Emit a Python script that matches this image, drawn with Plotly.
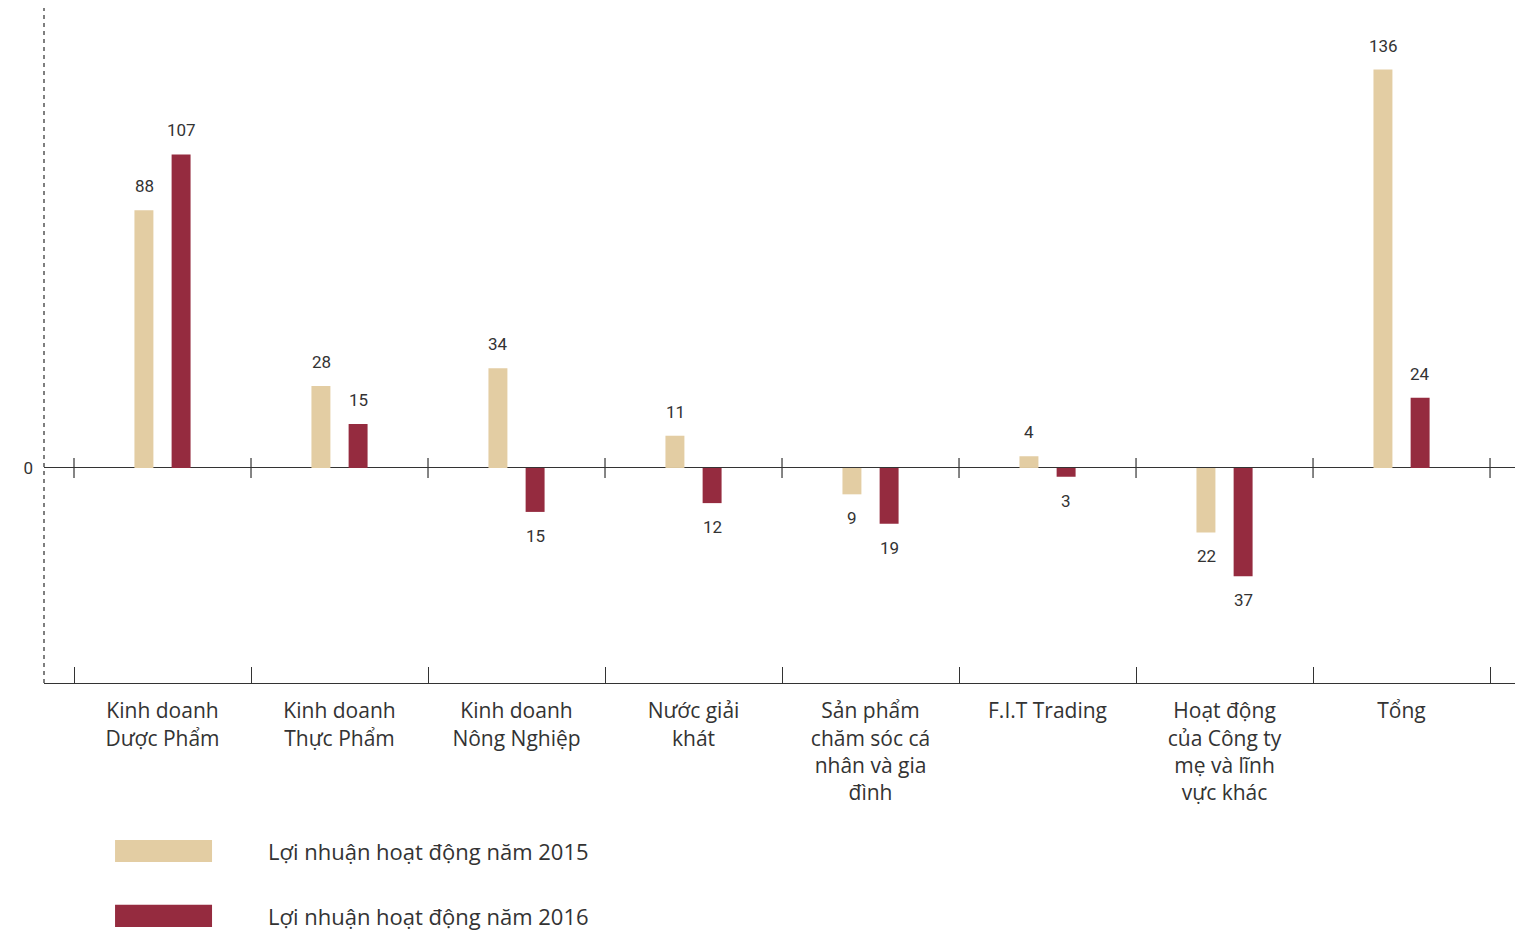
import plotly.graph_objects as go

categories = [
    "Kinh doanh<br>Dược Phẩm",
    "Kinh doanh<br>Thực Phẩm",
    "Kinh doanh<br>Nông Nghiệp",
    "Nước giải<br>khát",
    "Sản phẩm<br>chăm sóc cá<br>nhân và gia<br>đình",
    "F.I.T Trading",
    "Hoạt động<br>của Công ty<br>mẹ và lĩnh<br>vực khác",
    "Tổng",
]
values_2015 = [88, 28, 34, 11, -9, 4, -22, 136]
values_2016 = [107, 15, -15, -12, -19, -3, -37, 24]
series_names = ["Lợi nhuận hoạt động năm 2015", "Lợi nhuận hoạt động năm 2016"]
series_colors = ["#E3CDA3", "#952B3F"]

FONT = "Roboto"
LABEL_FONT = "Open Sans"
TXT = "#333333"

fig = go.Figure()
for name, vals, col in zip(series_names, [values_2015, values_2016], series_colors):
    fig.add_trace(go.Bar(x=categories, y=vals, name=name, marker=dict(color=col, line=dict(width=0)),
                         showlegend=False))

annotations = []
for shift, vals in zip([-18.5, 18.5], [values_2015, values_2016]):
    for c, v in zip(categories, vals):
        annotations.append(dict(x=c, y=v, xref="x", yref="y", text=str(abs(v)), showarrow=False,
                                xshift=shift, yshift=24 if v >= 0 else -24, yanchor="middle",
                                font=dict(family=FONT, size=17, color=TXT)))

# legend
leg_y = [-0.249, -0.345]
for ly, name, col in zip(leg_y, series_names, series_colors):
    annotations.append(dict(x=0.1506, y=ly, xref="paper", yref="paper", text=name, showarrow=False,
                            xanchor="left", yanchor="middle",
                            font=dict(family=LABEL_FONT, size=22, color=TXT)))

shapes = []
for ly, col in zip(leg_y, series_colors):
    shapes.append(dict(type="rect", xref="paper", yref="paper", x0=0.0482, x1=0.114,
                       y0=ly - 0.0163, y1=ly + 0.0163, fillcolor=col, line=dict(width=0)))
# dashed left axis
shapes.append(dict(type="line", xref="paper", yref="paper", x0=0, x1=0, y0=0, y1=1,
                   line=dict(color="#555555", width=1.5, dash="4px,4px")))
# ticks crossing zero line at category boundaries
for i in range(len(categories) + 1):
    shapes.append(dict(type="line", xref="x", yref="y", ysizemode="pixel", yanchor=0,
                       x0=i - 0.5, x1=i - 0.5, y0=-10, y1=10, line=dict(color=TXT, width=1.2)))

fig.update_layout(
    width=1515, height=924,
    margin=dict(l=36, r=5, t=0, b=249),
    paper_bgcolor="white", plot_bgcolor="white",
    barmode="group", bargap=0.58, bargroupgap=0.49,
    font=dict(family=FONT, color=TXT),
    annotations=annotations, shapes=shapes,
    xaxis=dict(type="category", range=[-0.6695, 7.658], tickson="boundaries", ticks="inside",
               ticklen=16, tickcolor=TXT, tickwidth=1.2, showline=True, linecolor=TXT, linewidth=1.2,
               tickfont=dict(family=LABEL_FONT, size=21, color=TXT), showgrid=False,
               ticklabelstandoff=9),
    yaxis=dict(range=[-73.4, 157], tickvals=[0], ticktext=["0"], showgrid=False, zeroline=True,
               zerolinecolor=TXT, zerolinewidth=1.2, showline=False, ticks="",
               tickfont=dict(family=FONT, size=17, color=TXT), ticklabelstandoff=10),
)

fig.write_html("out.html")
